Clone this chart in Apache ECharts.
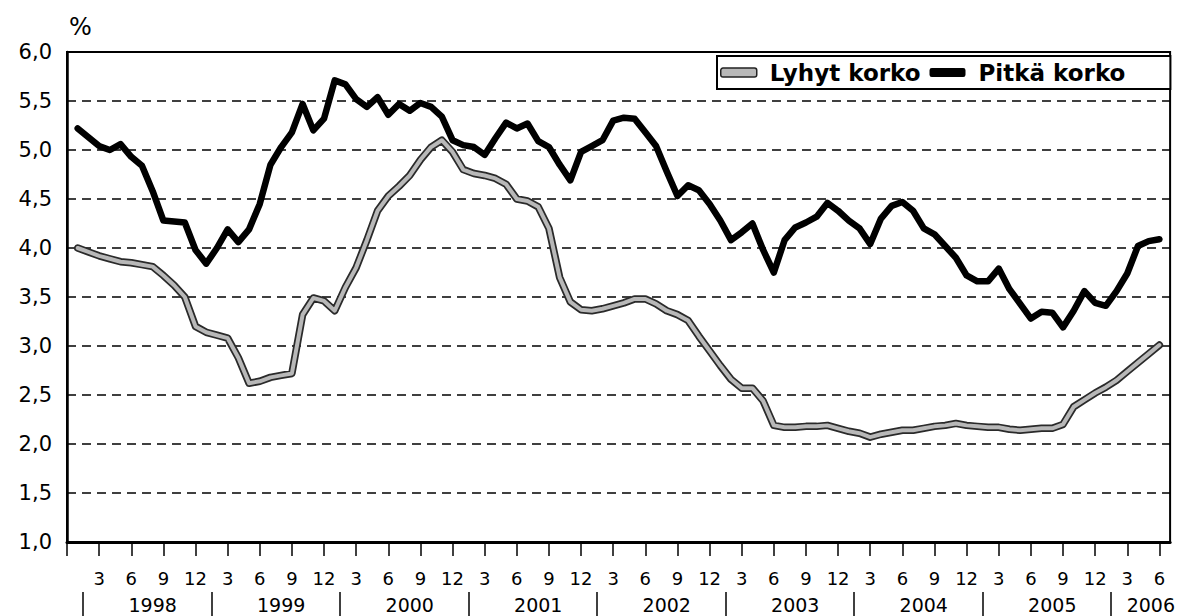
<!DOCTYPE html>
<html><head><meta charset="utf-8">
<script src="https://cdn.jsdelivr.net/npm/echarts@6/dist/echarts.min.js"></script>
<style>html,body{margin:0;padding:0;background:#fff}#c{width:1178px;height:616px}</style>
</head><body><div id="c"></div>
<script>
const FONT = 'DejaVu Sans';
// Monthly data Jan 1998 .. Jun 2006 (month index 1..102)
const seriesNames = ['Lyhyt korko', 'Pitkä korko'];
const shortRate = [
  4.00, 3.96, 3.92, 3.89, 3.86, 3.85, 3.83, 3.81, 3.72, 3.62, 3.50, 3.20,
  3.14, 3.11, 3.08, 2.88, 2.62, 2.64, 2.68, 2.70, 2.72, 3.32, 3.49, 3.46,
  3.36, 3.60, 3.80, 4.08, 4.38, 4.53, 4.63, 4.74, 4.90, 5.03, 5.10, 4.98,
  4.80, 4.76, 4.74, 4.71, 4.65, 4.50, 4.48, 4.42, 4.20, 3.70, 3.45, 3.37,
  3.36, 3.38, 3.41, 3.44, 3.48, 3.48, 3.43, 3.36, 3.32, 3.26, 3.10, 2.95,
  2.80, 2.66, 2.57, 2.57, 2.44, 2.19, 2.17, 2.17, 2.18, 2.18, 2.19, 2.16,
  2.13, 2.11, 2.07, 2.10, 2.12, 2.14, 2.14, 2.16, 2.18, 2.19, 2.21, 2.19,
  2.18, 2.17, 2.17, 2.15, 2.14, 2.15, 2.16, 2.16, 2.20, 2.38, 2.45, 2.52,
  2.58, 2.65, 2.74, 2.83, 2.92, 3.01
];
const longRate = [
  5.22, 5.13, 5.04, 5.00, 5.06, 4.93, 4.84, 4.58, 4.28, 4.27, 4.26, 3.98,
  3.84, 4.00, 4.19, 4.06, 4.19, 4.45, 4.85, 5.03, 5.18, 5.47, 5.20, 5.32,
  5.71, 5.67, 5.52, 5.44, 5.54, 5.36, 5.47, 5.40, 5.48, 5.44, 5.34, 5.10,
  5.05, 5.03, 4.95, 5.12, 5.28, 5.22, 5.27, 5.09, 5.03, 4.85, 4.69, 4.98,
  5.04, 5.10, 5.30, 5.33, 5.32, 5.18, 5.04, 4.78, 4.53, 4.64, 4.59, 4.45,
  4.28, 4.08, 4.16, 4.25, 3.98, 3.75, 4.08, 4.21, 4.26, 4.32, 4.46, 4.38,
  4.28, 4.20, 4.04, 4.30, 4.43, 4.47, 4.38, 4.20, 4.14, 4.02, 3.90, 3.72,
  3.66, 3.66, 3.79, 3.58, 3.43, 3.28, 3.35, 3.34, 3.19, 3.36, 3.56, 3.44,
  3.41, 3.56, 3.74, 4.02, 4.07, 4.09
];
const monthTickValues = [0,3,6,9,12,15,18,21,24,27,30,33,36,39,42,45,48,51,54,57,60,63,66,69,72,75,78,81,84,87,90,93,96,99,102];
const monthLabelValues = [3,6,9,12,15,18,21,24,27,30,33,36,39,42,45,48,51,54,57,60,63,66,69,72,75,78,81,84,87,90,93,96,99,102];
const yearLabels = ['1998','1999','2000','2001','2002','2003','2004','2005','2006'];
const yearLabelPos = [8,20,32,44,56,68,80,92,101.2];
const yearSeparatorPos = [1.5,13.5,25.5,37.5,49.5,61.5,73.5,85.5,97.5];
const yMin = 1, yMax = 6, yStep = 0.5;
const xMin = 0, xMax = 103;

const toPairs = arr => arr.map((v, k) => [k + 1, v]);

const chart = echarts.init(document.getElementById('c'), null, {renderer: 'svg'});
chart.setOption({
  animation: false,
  backgroundColor: '#fff',
  textStyle: {fontFamily: FONT},
  grid: {left: 67, right: 6, top: 52, bottom: 74, show: true, borderColor: '#000', borderWidth: 2, containLabel: false},
  legend: {
    left: 717, top: 56,
    padding: [5, 45, 5, 3],
    itemGap: 9, itemWidth: 36, itemHeight: 9,
    borderColor: '#000', borderWidth: 2, backgroundColor: '#fff',
    textStyle: {fontFamily: FONT, fontWeight: 'bold', fontSize: 23, color: '#000', padding: [0, 0, 0, 8]},
    data: [
      {name: seriesNames[0], icon: 'roundRect', itemStyle: {color: '#b8b8b8', borderColor: '#222', borderWidth: 1.5}},
      {name: seriesNames[1], icon: 'roundRect', itemStyle: {color: '#000', borderWidth: 0}}
    ]
  },
  xAxis: [
    {
      type: 'value', min: xMin, max: xMax, gridIndex: 0, position: 'bottom',
      axisLine: {show: true, lineStyle: {color: '#000', width: 3}},
      axisTick: {show: true, customValues: monthTickValues, length: 14, inside: false, lineStyle: {color: '#000', width: 1.5}},
      axisLabel: {customValues: monthLabelValues, margin: 27, fontSize: 18, color: '#000', fontFamily: FONT,
        formatter: v => String(((v - 1) % 12) + 1)},
      splitLine: {show: false}
    },
    {
      type: 'value', min: xMin, max: xMax, gridIndex: 0, position: 'bottom', offset: 50,
      axisLine: {show: false},
      axisTick: {show: true, customValues: yearSeparatorPos, length: 26, inside: false, lineStyle: {color: '#000', width: 1.5}},
      axisLabel: {customValues: yearLabelPos, margin: 3, fontSize: 19, color: '#000', fontFamily: FONT,
        formatter: v => { const k = yearLabelPos.indexOf(v); return k >= 0 ? yearLabels[k] : ''; }},
      splitLine: {show: false}
    }
  ],
  yAxis: {
    type: 'value', min: yMin, max: yMax, interval: yStep,
    name: '%', nameLocation: 'end', nameGap: 13,
    nameTextStyle: {fontSize: 24, color: '#000', align: 'left', padding: [0, 0, 0, 2], fontFamily: FONT},
    axisLine: {show: true, lineStyle: {color: '#000', width: 2.5}},
    axisTick: {show: false},
    axisLabel: {margin: 15, fontSize: 21, color: '#000', fontFamily: FONT,
      formatter: v => v.toFixed(1).replace('.', ',')},
    splitLine: {show: true, lineStyle: {color: '#000', width: 1.6, type: [9, 6]}}
  },
  series: [
    {
      name: 'Pitkä korko', type: 'line', data: toPairs(longRate), showSymbol: false, symbol: 'none',
      color: '#000',
      lineStyle: {color: '#000', width: 6.5, join: 'round', cap: 'round'}, z: 3
    },
    {
      name: 'Lyhyt korko (reuna)', type: 'line', data: toPairs(shortRate), showSymbol: false, symbol: 'none',
      silent: true, lineStyle: {color: '#2a2a2a', width: 7.5, join: 'round', cap: 'round'}, z: 4
    },
    {
      name: 'Lyhyt korko', type: 'line', data: toPairs(shortRate), showSymbol: false, symbol: 'none',
      color: '#b8b8b8',
      lineStyle: {color: '#b8b8b8', width: 4, join: 'round', cap: 'round'}, z: 5
    }
  ]
});
</script></body></html>
